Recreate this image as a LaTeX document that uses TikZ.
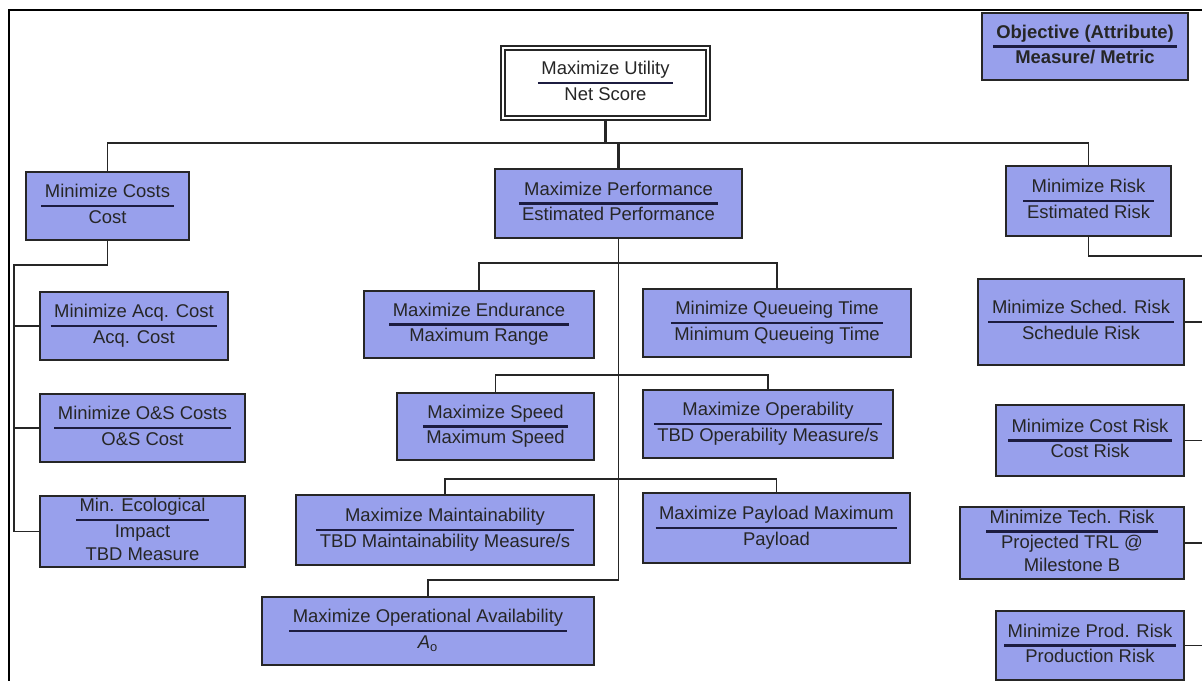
\documentclass[tikz,border=0pt]{standalone}
\usepackage{fontspec}
\setmainfont{Liberation Sans}
\usepackage{xcolor}
\usepackage{colortbl}
\definecolor{boxblue}{RGB}{152,160,236}
\definecolor{rulenavy}{RGB}{28,28,64}
\usetikzlibrary{positioning,calc}
\newcommand{\objmeas}[2]{\setlength{\arrayrulewidth}{1.3pt}\arrayrulecolor{rulenavy}\setlength{\tabcolsep}{2pt}\renewcommand{\arraystretch}{1.05}\begin{tabular}{c}#1\\\hline #2\end{tabular}}

\begin{document}
\begin{tikzpicture}[x=0.02cm, y=-0.02cm, attr/.style 2 args={draw=black!85, line width=1.3pt, fill=boxblue, inner sep=0pt, minimum width=#1*0.02cm, minimum height=#2*0.02cm, font=\fontsize{10.5}{12.5}\selectfont, text=black!85}, link/.style={line width=1.1pt, black!85}]

\useasboundingbox (0,0) rectangle (1202,681);
\draw[line width=1.2pt] (1202,10) -- (9,10) -- (9,681);

\node[attr={206}{67}, font=\fontsize{10.5}{12.5}\selectfont\bfseries] (legend) at (1085,46.5) {\objmeas{Objective (Attribute)}{Measure/ Metric}};
\node[attr={205}{70}, fill=white, double=white, double distance=1.6pt, line width=0.9pt] (root) at (605.5,83) {\objmeas{Maximize Utility}{Net Score}};

\node[attr={163}{68}] (cost) at (107.5,206) {\objmeas{Minimize Costs}{Cost}};
\node[attr={247}{69}] (perf) at (618.5,203.5) {\objmeas{Maximize Performance}{Estimated Performance}};
\node[attr={165}{70}] (risk) at (1088.5,201) {\objmeas{Minimize Risk}{Estimated Risk}};

\node[attr={188}{68}] (acq) at (134,326) {\objmeas{Minimize Acq. Cost}{Acq. Cost}};
\node[attr={205}{68}] (os) at (142.5,428) {\objmeas{Minimize O\&S Costs}{O\&S Cost}};
\node[attr={205}{71}] (eco) at (142.5,531.5) {\objmeas{Min. Ecological}{Impact\\TBD Measure}};

\node[attr={230}{67}] (endur) at (479,324.5) {\objmeas{Maximize Endurance}{Maximum Range}};
\node[attr={268}{68}] (queue) at (777,323) {\objmeas{Minimize Queueing Time}{Minimum Queueing Time}};
\node[attr={197}{67}] (speed) at (495.5,426.5) {\objmeas{Maximize Speed}{Maximum Speed}};
\node[attr={250}{68}] (oper) at (768,424) {\objmeas{Maximize Operability}{TBD Operability Measure/s}};
\node[attr={298}{70}] (maint) at (445,530) {\objmeas{Maximize Maintainability}{TBD Maintainability Measure/s}};
\node[attr={267}{70}] (payload) at (776.5,528) {\objmeas{Maximize Payload Maximum}{Payload}};
\node[attr={332}{68}] (avail) at (428,631) {\objmeas{Maximize Operational Availability}{\textit{A}\textsubscript{o}}};

\node[attr={206}{86}] (sched) at (1081,322) {\objmeas{Minimize Sched. Risk}{Schedule Risk}};
\node[attr={188}{71}] (crisk) at (1090,440.5) {\objmeas{Minimize Cost Risk}{Cost Risk}};
\node[attr={224}{70}] (tech) at (1072,543) {\objmeas{Minimize Tech. Risk}{Projected TRL @\\Milestone B}};
\node[attr={188}{69}] (prod) at (1090,645.5) {\objmeas{Minimize Prod. Risk}{Production Risk}};

\coordinate (bus) at (605.5,143);
\draw[link] (cost.north) |- (bus) -| (risk.north);
\draw[link, line width=1.6pt] (root.south) -- (bus) -| (perf.north);

\coordinate (cs) at (14,265);
\draw[link] (cost.south) |- (cs) |- (eco.west);
\draw[link] (cs) |- (acq.west);
\draw[link] (cs) |- (os.west);

\coordinate (p1) at (618.5,263);
\coordinate (p2) at (618.5,375);
\coordinate (p3) at (618.5,479);
\coordinate (p4) at (618.5,580);
\draw[link] (perf.south) |- (p4) -| (avail.north);
\draw[link] (endur.north) |- (p1) -| (queue.north);
\draw[link] (speed.north) |- (p2) -| (oper.north);
\draw[link] (maint.north) |- (p3) -| (payload.north);

\coordinate (rs) at (1202,256);
\draw[link] (risk.south) |- (rs);
\foreach \n in {sched,crisk,tech,prod}
  \draw[link] (\n.east) -- (\n.east -| rs);
\end{tikzpicture}
\end{document}
